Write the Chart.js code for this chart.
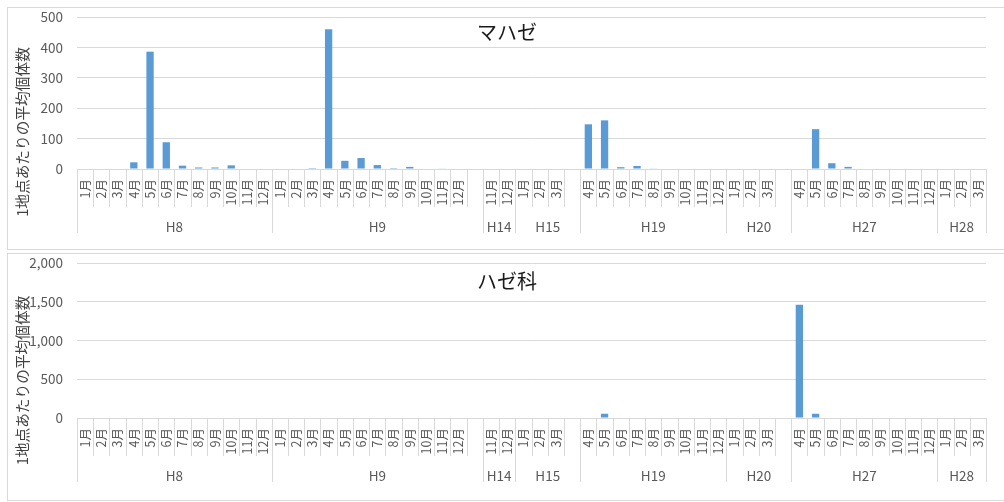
<!DOCTYPE html>
<html>
<head>
<meta charset="utf-8">
<script src="https://cdn.jsdelivr.net/npm/chart.js@4/dist/chart.umd.min.js"></script>
<style>
  body { margin: 0; background: #fff; }
  .panel { position: absolute; left: 7px; width: 1000px; border: 1px solid #d9d9d9; background: #fff; }
  #p1 { top: 7px; height: 241px; }
  #p2 { top: 253px; height: 246px; }
  canvas { display: block; }
</style>
</head>
<body>
<div class="panel" id="p1"><div style="width:995px;height:240px"><canvas id="c1"></canvas></div></div>
<div class="panel" id="p2"><div style="width:995px;height:245px"><canvas id="c2"></canvas></div></div>
<script>
// month slots, '' = empty slot between survey years
var monthLabels = [
    "1月", "2月", "3月", "4月", "5月", "6月", "7月", "8月", "9月", "10月", "11月", "12月",
    "1月", "2月", "3月", "4月", "5月", "6月", "7月", "8月", "9月", "10月", "11月", "12月", "",
    "11月", "12月",
    "1月", "2月", "3月", "",
    "4月", "5月", "6月", "7月", "8月", "9月", "10月", "11月", "12月",
    "1月", "2月", "3月", "",
    "4月", "5月", "6月", "7月", "8月", "9月", "10月", "11月", "12月",
    "1月", "2月", "3月"
];
var groupNames = ["H8", "H9", "H14", "H15", "H19", "H20", "H27", "H28"];
var groupSizes = [12, 13, 2, 4, 9, 4, 9, 3];

var mahazeValues = [
    0, 0, 0, 22, 386, 88, 11, 5, 5, 12, 0, 0,
    0, 0, 3, 460, 27, 36, 13, 3, 7, 0, 2, 0, null,
    0, 0,
    0, 0, 0, null,
    147, 160, 6, 10, 2, 0, 0, 0, 0,
    0, 0, 0, null,
    0, 131, 19, 7, 0, 0, 0, 0, 0,
    0, 0, 0
];
var hazekaValues = [
    0, 0, 0, 0, 0, 0, 0, 0, 0, 0, 0, 0,
    0, 0, 0, 0, 0, 0, 0, 0, 0, 0, 0, 0, null,
    0, 0,
    0, 0, 0, null,
    0, 55, 0, 0, 0, 0, 0, 0, 0,
    0, 0, 0, null,
    1462, 55, 0, 0, 0, 0, 0, 0, 0,
    0, 0, 0
];
var mahazeTicks = [0, 100, 200, 300, 400, 500];
var hazekaTicks = [0, 500, 1000, 1500, 2000];

var FONT = '"Noto Sans CJK JP", "Noto Sans", sans-serif';
var yTitle = "1地点あたりの平均個体数";

// title, y title, and the two-level category axis (months + year groups)
var panelDecor = {
    id: "panelDecor",
    afterDraw: function(chart, args, opts) {
        var ctx = chart.ctx;
        var x = chart.scales.x;
        var n = monthLabels.length;
        var w = (x.right - x.left) / n;
        var groupEdges = [0];
        for (var g = 0; g < groupSizes.length; g++) {
            groupEdges.push(groupEdges[g] + groupSizes[g]);
        }
        ctx.save();
        ctx.strokeStyle = "#d9d9d9";
        ctx.lineWidth = 1;
        for (var i = 0; i <= n; i++) {
            var bx = Math.round(x.left + i * w) + 0.5;
            var len = groupEdges.indexOf(i) >= 0 ? 64 : 38;
            ctx.beginPath();
            ctx.moveTo(bx, x.top);
            ctx.lineTo(bx, x.top + len);
            ctx.stroke();
        }
        ctx.fillStyle = "#595959";
        ctx.font = "13.5px " + FONT;
        ctx.textAlign = "center";
        ctx.textBaseline = "middle";
        for (var k = 0; k < groupNames.length; k++) {
            var cx = x.left + (groupEdges[k] + groupEdges[k + 1]) / 2 * w;
            ctx.fillText(groupNames[k], cx, x.top + 58);
        }
        // chart title
        ctx.fillStyle = "#1a1a1a";
        ctx.font = "20px " + FONT;
        ctx.fillText(opts.title, 499, opts.titleY);
        // y axis title
        ctx.translate(14, chart.height / 2 + 4);
        ctx.rotate(-Math.PI / 2);
        ctx.fillStyle = "#404040";
        ctx.font = "14.7px " + FONT;
        ctx.fillText(yTitle, 0, 0);
        ctx.restore();
    }
};

function renderPanel(canvasId, values, ticks, title, titleY, xHeight) {
    var ctx = document.getElementById(canvasId).getContext("2d");
    new Chart(ctx, {
        type: "bar",
        data: {
            labels: monthLabels,
            datasets: [{
                data: values,
                backgroundColor: "#5b9bd5",
                borderWidth: 0,
                categoryPercentage: 1,
                barPercentage: 0.45
            }]
        },
        options: {
            responsive: true,
            maintainAspectRatio: false,
            animation: false,
            layout: { padding: { top: 9, right: 8, bottom: 0, left: 0 } },
            scales: {
                x: {
                    grid: { display: false, drawTicks: false },
                    border: { display: true, color: "#d9d9d9" },
                    ticks: {
                        autoSkip: false,
                        maxRotation: 90,
                        minRotation: 90,
                        padding: 10,
                        font: { size: 12.5, family: FONT },
                        color: "#595959"
                    },
                    afterFit: function(scale) { scale.height = xHeight; }
                },
                y: {
                    min: ticks[0],
                    max: ticks[ticks.length - 1],
                    grid: { color: "#d9d9d9", drawTicks: true, tickLength: 14, tickColor: "rgba(0,0,0,0)" },
                    border: { display: false },
                    ticks: {
                        stepSize: ticks[1] - ticks[0],
                        padding: 0,
                        font: { size: 13.5, family: FONT },
                        color: "#595959",
                        callback: function(v) { return v.toLocaleString("en-US"); }
                    },
                    afterFit: function(scale) { scale.width = 69; }
                }
            },
            plugins: {
                legend: { display: false },
                tooltip: { enabled: false },
                panelDecor: { title: title, titleY: titleY }
            }
        },
        plugins: [panelDecor]
    });
}

renderPanel("c1", mahazeValues, mahazeTicks, "マハゼ", 24, 79);
renderPanel("c2", hazekaValues, hazekaTicks, "ハゼ科", 27, 81);
</script>
</body>
</html>
